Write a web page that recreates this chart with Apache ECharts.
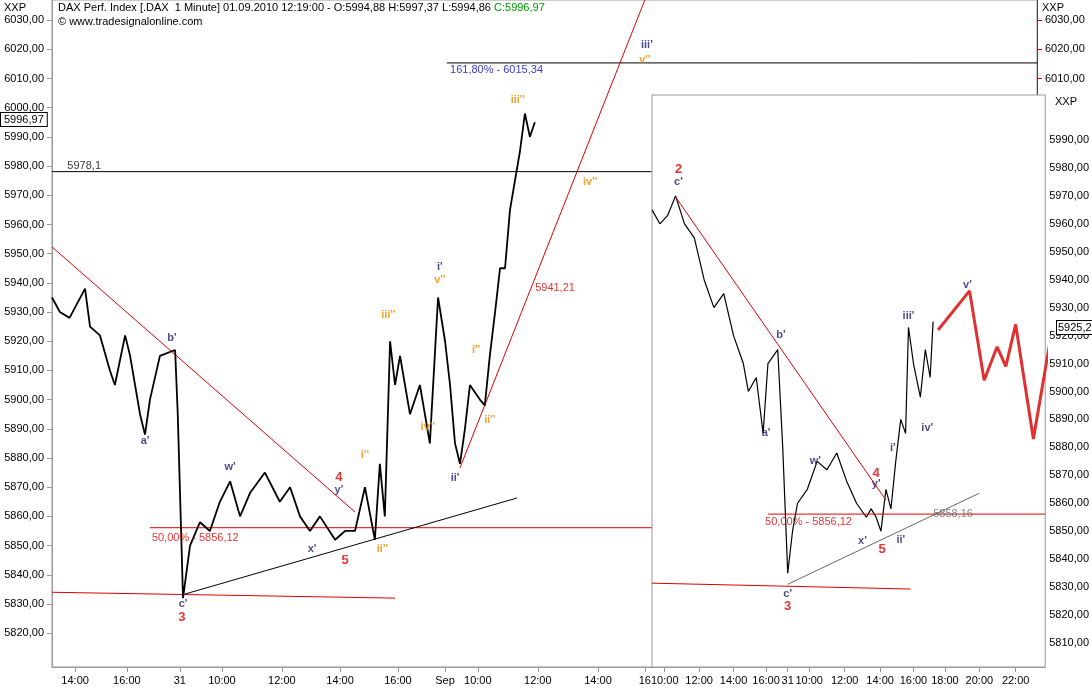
<!DOCTYPE html>
<html><head><meta charset="utf-8">
<script src="https://cdn.jsdelivr.net/npm/echarts@6/dist/echarts.min.js"></script>
<style>html,body{margin:0;background:#fff}#main{width:1092px;height:689px}</style>
</head><body><div id="main"></div>
<script>
var myChart = echarts.init(document.getElementById('main'));

// left chart: x = trading hour index, y = price
var leftT = [0,.27,.6,1.13,1.3,1.64,1.98,2.15,2.5,2.67,3.01,3.18,3.35,3.69,4.21,4.3,4.48,4.72,5.06,5.4,5.74,6.09,6.43,6.77,7.28,7.79,8.14,8.48,8.82,9.16,9.68,10.02,10.36,10.7,11.04,11.21,11.38,11.56,11.73,11.9,12.24,12.58,12.92,13.2,13.44,13.61,13.78,13.95,14.12,14.29,14.63,14.8,14.97,15.15,15.32,15.49,15.66,15.83,16,16.17,16.34,16.51];
var leftP = [5935,5930,5928,5938,5925,5922,5910,5905,5922,5915,5895,5888,5900,5915,5917,5895,5832,5850,5858,5855,5865,5872,5860,5868,5875,5865,5870,5860,5855,5860,5852,5855,5855,5870,5852,5878,5860,5920,5905,5915,5895,5905,5885,5935,5920,5905,5885,5878,5890,5905,5900,5898,5915,5930,5945,5945,5965,5975,5985,5998,5990,5995];
// right chart
var rightT = [0,.46,.91,1.37,1.89,2.46,3.03,3.6,4.17,4.74,5.31,5.6,6.06,6.46,6.74,7.31,7.6,7.89,8.17,8.46,9.03,9.6,10.17,10.74,11.31,11.89,12.46,12.74,13.03,13.31,13.6,13.89,14.17,14.46,14.74,14.91,15.2,15.6,15.89,16.17,16.34];
var rightP = [5965,5960,5963,5970,5960,5955,5940,5930,5935,5920,5910,5900,5905,5885,5910,5915,5880,5835,5850,5860,5865,5875,5872,5878,5868,5860,5855,5858,5855,5850,5865,5858,5875,5890,5885,5923,5910,5898,5915,5905,5925];
var forecast = [[16.63,5922],[18.46,5936],[19.31,5904],[20.06,5916],[20.57,5909],[21.14,5924],[22.17,5883],[25.14,5990]];

var leftTickPos = [.79,2.56,4.37,5.81,7.86,9.85,11.83,13.44,14.56,16.61,18.67,20.27];
var leftTickTxt = ['14:00','16:00','31','10:00','12:00','14:00','16:00','Sep','10:00','12:00','14:00','16'];
var rightTickPos = [.74,2.74,4.74,6.63,7.89,9.14,11.2,13.26,15.2,17.03,19.03,21.14];
var rightTickTxt = ['10:00','12:00','14:00','16:00','31','10:00','12:00','14:00','16:00','18:00','20:00','22:00'];
var leftYTicks = [5820,5830,5840,5850,5860,5870,5880,5890,5900,5910,5920,5930,5940,5950,5960,5970,5980,5990,6000,6010,6020,6030];
var rightYTicks = [5810,5820,5830,5840,5850,5860,5870,5880,5890,5900,5910,5920,5930,5940,5950,5960,5970,5980,5990];

// [x1,p1,x2,p2,color]
var leftLines = [[0,5952.3,10.36,5861.5,'#e00000'],[0,5978.1,20.51,5978.1,'#000'],[13.5,6015.34,33.68,6015.34,'#000'],
  [3.35,5856.12,20.51,5856.12,'#e00000'],[0,5834,11.73,5832,'#e00000'],[4.55,5833.4,15.9,5866.3,'#000'],[13.95,5876.6,20.27,6036.9,'#e00000']];
var rightLines = [[1.37,5969.6,13.6,5861.1,'#e00000'],[6.74,5856.12,22.86,5856.12,'#e00000'],[0,5831.4,15.03,5829.3,'#e00000'],[7.89,5831,19.03,5863.6,'#666']];

var leftLabels = [[3.18,5886,"a'",'#1a1a6e'],[4.1,5921,"b'",'#1a1a6e'],[4.48,5830,"c'",'#1a1a6e'],[4.44,5825.5,'3','#e00000'],
  [6.09,5877,"w'",'#1a1a6e'],[8.89,5849,"x'",'#1a1a6e'],[9.81,5869,"y'",'#1a1a6e'],[9.81,5873.5,'4','#e00000'],[10.02,5845,'5','#e00000'],
  [10.7,5881,"i''",'#f08c00'],[11.3,5849,"ii''",'#f08c00'],[11.5,5929,"iii''",'#f08c00'],[12.85,5890.6,"iv''",'#f08c00'],
  [13.26,5945.4,"i'",'#1a1a6e'],[13.26,5941,"v''",'#f08c00'],[13.78,5873,"ii'",'#1a1a6e'],[14.5,5917,"i''",'#f08c00'],[14.97,5893,"ii''",'#f08c00'],
  [15.93,6002.6,"iii''",'#f08c00'],[20.34,6021.5,"iii'",'#1a1a6e'],[20.27,6016.3,"v''",'#f08c00'],[18.4,5974.6,"iv''",'#f08c00'],
  [17.2,5938.2,'5941,21','#e00000'],[1.1,5980.2,'5978,1','#000'],[15.2,6012.8,'161,80% - 6015,34','#0000cc'],[4.9,5852.5,'50,00% - 5856,12','#e00000']];
var rightLabels = [[1.54,5979.3,'2','#e00000'],[1.54,5975,"c'",'#1a1a6e'],[7.49,5920.2,"b'",'#1a1a6e'],[6.63,5885.1,"a'",'#1a1a6e'],
  [9.49,5875.1,"w'",'#1a1a6e'],[12.23,5846.5,"x'",'#1a1a6e'],[13.03,5866.9,"y'",'#1a1a6e'],[13.03,5870.8,'4','#e00000'],[13.37,5843.3,'5','#e00000'],
  [14,5879.8,"i'",'#1a1a6e'],[14.46,5846.8,"ii'",'#1a1a6e'],[14.91,5927,"iii'",'#1a1a6e'],[16,5886.9,"iv'",'#1a1a6e'],[18.34,5938.1,"v'",'#1a1a6e'],
  [7.89,5827.5,"c'",'#1a1a6e'],[7.89,5823.2,'3','#e00000'],[9.1,5853.3,'50,00% - 5856,12','#e00000'],[17.5,5856.3,'5858,16','#666']];

function fmt(v){return v.toFixed(2).replace('.',',');}
function zip(t,p){return t.map(function(v,i){return [v,p[i]];});}
function lineSeries(lines,idx){
  return lines.map(function(l){return {type:'line',xAxisIndex:idx,yAxisIndex:idx===0?0:2,data:[[l[0],l[1]],[l[2],l[3]]],
    symbol:'none',silent:true,lineStyle:{color:l[4],width:1},z:3};});
}
function labelSeries(labels,idx){
  return {type:'scatter',xAxisIndex:idx,yAxisIndex:idx===0?0:2,symbolSize:0,z:5,
    data:labels.map(function(l){var big=/^[0-9]$/.test(l[2]);var wave=/'/.test(l[2]);
      return {value:[l[0],l[1]],label:{show:true,formatter:l[2],color:l[3],
      fontWeight:(big||wave)?'bold':'normal',fontSize:big?13:11}};}),
    label:{position:'inside',fontFamily:'Liberation Sans'}};
}
var axisTxt = {color:'#000',fontSize:11,fontFamily:'Liberation Sans'};

var option = {
  backgroundColor:'#fff',
  animation:false,
  grid:[{left:52,right:55,top:0,bottom:22,show:true,borderColor:'#999',backgroundColor:'#fff'},
        {left:652,right:40,top:95,bottom:22,show:true,borderColor:'#999',backgroundColor:'#fff',z:4}],
  xAxis:[
    {type:'value',gridIndex:0,min:0,max:33.68,splitLine:{show:false},axisLine:{lineStyle:{color:'#999'}},
     axisTick:{customValues:leftTickPos,lineStyle:{color:'#999'}},
     axisLabel:Object.assign({customValues:leftTickPos,formatter:function(v){return leftTickTxt[leftTickPos.indexOf(v)];}},axisTxt)},
    {type:'value',gridIndex:1,min:0,max:22.86,splitLine:{show:false},axisLine:{lineStyle:{color:'#999'}},
     axisTick:{customValues:rightTickPos,lineStyle:{color:'#999'}},
     axisLabel:Object.assign({customValues:rightTickPos,formatter:function(v){return rightTickTxt[rightTickPos.indexOf(v)];}},axisTxt)}
  ],
  yAxis:[
    {type:'value',gridIndex:0,position:'left',min:5808.4,max:6036.9,splitLine:{show:false},axisLine:{show:true,lineStyle:{color:'#999'}},
     axisTick:{show:true,customValues:leftYTicks,lineStyle:{color:'#999'}},axisLabel:Object.assign({customValues:leftYTicks,formatter:fmt},axisTxt)},
    {type:'value',gridIndex:0,position:'right',min:5808.4,max:6036.9,splitLine:{show:false},axisLine:{show:true,lineStyle:{color:'#e00000'}},
     axisTick:{show:true,customValues:[6010,6020,6030]},axisLabel:Object.assign({customValues:[6010,6020,6030],formatter:fmt},axisTxt)},
    {type:'value',gridIndex:1,position:'right',min:5801.4,max:6006.1,splitLine:{show:false},axisLine:{show:true,lineStyle:{color:'#e00000'}},
     axisTick:{show:true,customValues:rightYTicks},axisLabel:Object.assign({customValues:rightYTicks,formatter:fmt,margin:4},axisTxt)}
  ],
  series:[
    {type:'line',xAxisIndex:0,yAxisIndex:0,data:zip(leftT,leftP),symbol:'none',lineStyle:{color:'#000',width:1.8},z:4},
    {type:'line',xAxisIndex:1,yAxisIndex:2,data:zip(rightT,rightP),symbol:'none',lineStyle:{color:'#000',width:1.2},z:6},
    {type:'line',xAxisIndex:1,yAxisIndex:2,data:forecast,symbol:'none',lineStyle:{color:'#e03030',width:3},z:6,clip:true}
  ].concat(lineSeries(leftLines,0)).concat(lineSeries(rightLines,1).map(function(s){s.z=6;return s;}))
   .concat([labelSeries(leftLabels,0),Object.assign(labelSeries(rightLabels,1),{z:7})]),
  graphic:[
    {type:'text',left:4,top:2,style:{text:'XXP',fontSize:11,fill:'#000',font:'11px Liberation Sans'}},
    {type:'text',left:58,top:2,style:{rich:{a:{fontSize:11,fill:'#000'},g:{fontSize:11,fill:'#009900'}},
      text:'{a|DAX Perf. Index [.DAX  1 Minute] 01.09.2010 12:19:00 - O:5994,88 H:5997,37 L:5994,86 }{g|C:5996,97}',font:'11px Liberation Sans'}},
    {type:'text',left:58,top:16,style:{text:'© www.tradesignalonline.com',font:'11px Liberation Sans',fill:'#000'}},
    {type:'text',left:1042,top:2,style:{text:'XXP',font:'11px Liberation Sans',fill:'#000'}},
    {type:'text',left:1055,top:96,style:{text:'XXP',font:'11px Liberation Sans',fill:'#000'},z:10},
    {type:'text',left:0,top:112,style:{text:'5996,97',font:'11px Liberation Sans',fill:'#000',backgroundColor:'#fff',borderColor:'#000',borderWidth:1,padding:[1,3]},z:10},
    {type:'text',left:1056,top:320,style:{text:'5925,2',font:'11px Liberation Sans',fill:'#000',backgroundColor:'#fff',borderColor:'#000',borderWidth:1,padding:1},z:10}
  ]
};
myChart.setOption(option);
</script></body></html>
